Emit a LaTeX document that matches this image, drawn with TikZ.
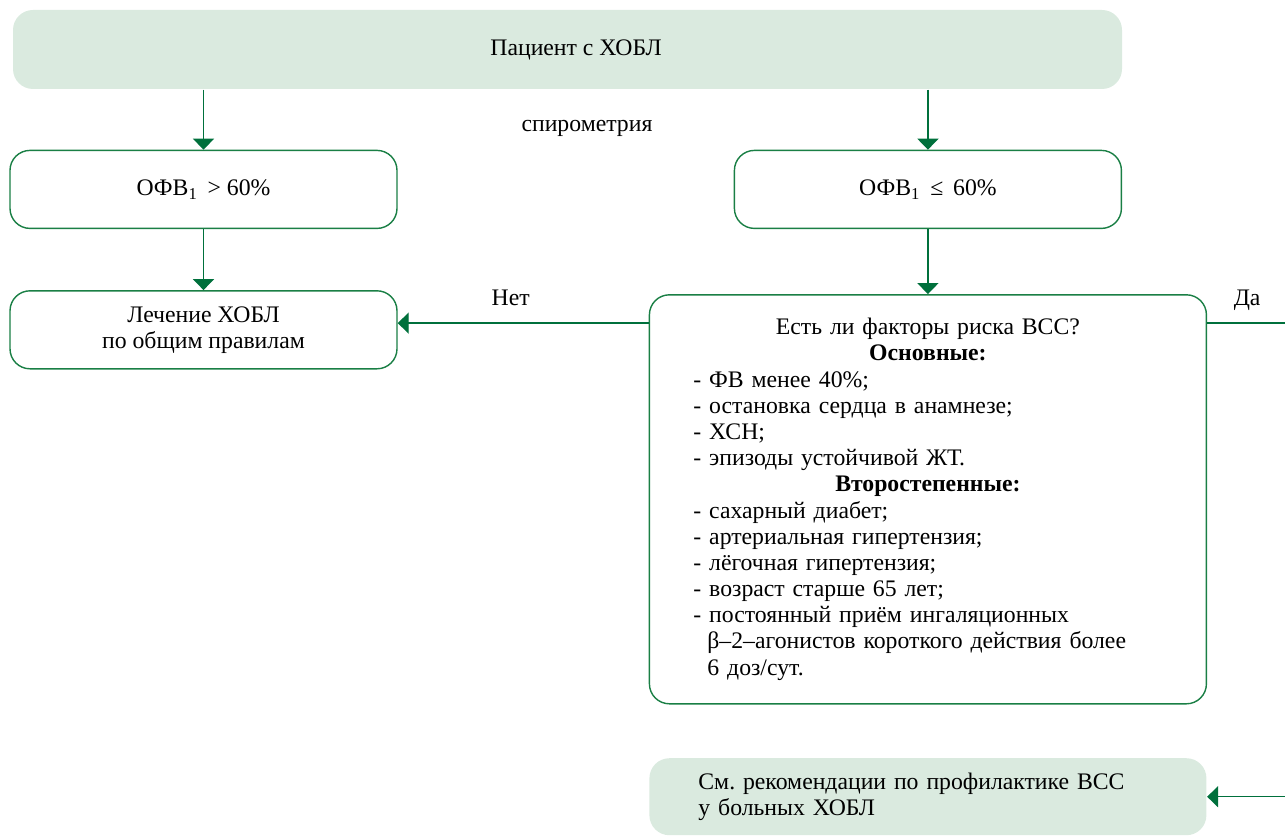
\documentclass[tikz,border=0pt]{standalone}
\usepackage{fontspec}
\setmainfont{Liberation Serif}
\usetikzlibrary{arrows.meta, positioning}
\setlength{\parindent}{0pt}
\frenchspacing
\definecolor{cgreen}{HTML}{1A7F45}
\definecolor{cdark}{HTML}{00703C}
\definecolor{cpale}{HTML}{DAEADF}
\tikzset{
  every picture/.style={font=\fontsize{13.5}{14.9}\selectfont, line width=0.8pt},
  box/.style={draw=cgreen, fill=white, rounded corners=0.4cm, align=center, minimum width=7.74cm, minimum height=1.56cm},
  softbox/.style={fill=cpale, rounded corners=0.4cm, align=center, inner sep=0pt},
  arrow/.style={-{Triangle[length=0.22cm, width=0.42cm]}, draw=cdark, line width=0.8pt},
  link/.style={draw=cdark, line width=0.8pt},
  note/.style={inner sep=0pt, anchor=base},
}
\begin{document}
\begin{tikzpicture}
  \useasboundingbox (0,0) rectangle (25.7,-16.78);
  \tikzset{wide/.style={minimum width=11.14cm}}
  \node[softbox, minimum width=22.18cm, minimum height=1.58cm] (pat) at (11.35,-0.99) {\hspace*{0.34cm}Пациент с ХОБЛ};
  \node[box, below=1.2cm of pat.south west, anchor=north west, xshift=-0.06cm] (fev1) {ОФВ\textsubscript{1}\, > 60\%};
  \node[box, right=6.72cm of fev1] (fev2) {ОФВ\textsubscript{1}\, ≤\, 60\%};
  \node[box, below=1.22cm of fev1] (treat) {Лечение ХОБЛ\\по общим правилам};
  \node[box, wide, below=1.3cm of fev2, minimum height=8.18cm, text width=9.38cm, align=left, inner xsep=0.88cm] (risk)
    {{\centering Есть ли факторы риска ВСС?\\\textbf{Основные:}\par}
     - ФВ менее 40\%;\\
     - остановка сердца в анамнезе;\\
     - ХСН;\\
     - эпизоды устойчивой ЖТ.\par
     {\centering\textbf{Второстепенные:}\par}
     - сахарный диабет;\\
     - артериальная гипертензия;\\
     - лёгочная гипертензия;\\
     - возраст старше 65 лет;\\
     - постоянный приём ингаляционных\\
     \hspace*{0.28cm}β–2–агонистов короткого действия более\\
     \hspace*{0.28cm}6 доз/сут.};
  \node[softbox, wide, below=1.06cm of risk, minimum height=1.54cm, text width=9.18cm, align=left, inner xsep=0.98cm] (rec)
    {См. рекомендации по профилактике ВСС\\у больных ХОБЛ};
  \node (spiro) at (11.74,-2.56) {спирометрия};
  % connectors
  \coordinate (no) at ([yshift=-0.58cm]risk.north west);
  \coordinate (yes) at ([yshift=-0.58cm]risk.north east);
  \coordinate (edgerec) at ([xshift=1.6cm]rec.east);
  \draw[arrow] (pat.south -| fev1) -- (fev1);
  \draw[arrow] (pat.south -| fev2) -- (fev2);
  \draw[arrow] (fev1) -- (treat);
  \draw[arrow] (fev2) -- (risk);
  \draw[arrow] (no) -- node[note, pos=0.55, yshift=0.36cm] {Нет} (no -| treat.east);
  \draw[link] (yes) -- node[note, midway, yshift=0.36cm] {Да} ++(1.6,0) coordinate (edgeyes);
  \draw[arrow] (edgerec) -- (rec.east);
\end{tikzpicture}
\end{document}
